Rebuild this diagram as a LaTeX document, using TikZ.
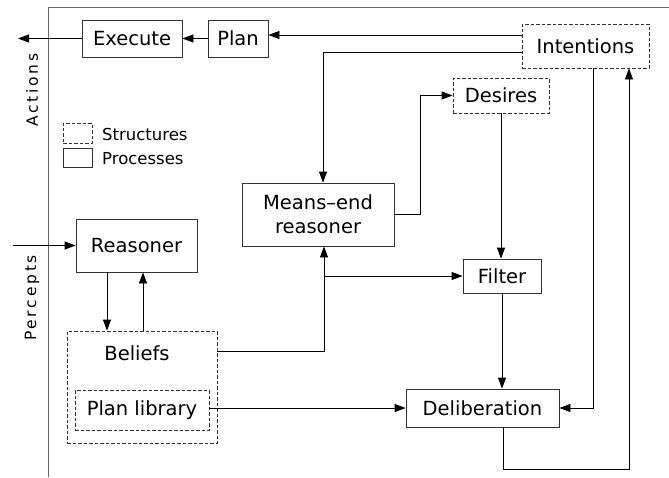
\documentclass[tikz,border=0pt]{standalone}
\usepackage{fontspec}
\setmainfont{DejaVu Sans}
\usetikzlibrary{arrows.meta}
\begin{document}
\begin{tikzpicture}[x=1pt,y=-1pt,
  every node/.style={inner sep=0pt,font=\fontsize{19.5}{24}\selectfont},
  proc/.style={draw=black!80,line width=0.8pt,minimum width=#1},
  struct/.style={draw=black!80,line width=0.8pt,dash pattern=on 3.5pt off 2pt,minimum width=#1},
  arr/.style={line width=0.8pt,-{Triangle[length=11pt,width=8pt]}},
  side/.style={rotate=90,font=\fontsize{15.5}{18}\selectfont\addfontfeature{LetterSpace=18}},
  legend/.style={anchor=west,font=\fontsize{16.5}{20}\selectfont}]
\useasboundingbox (0,0) rectangle (669,477);

% frame of the agent
\draw[line width=0.9pt,black!60] (669,7.5) -- (48,7.5) -- (48,477);

% processes and structures
\node[proc=100pt,minimum height=37pt] (execute) at (132,38.5) {Execute};
\node[proc=60pt,minimum height=37pt] (plan) at (238,38.5) {Plan};
\node[struct=127pt,minimum height=44pt] (intentions) at (585.5,46) {Intentions};
\node[struct=96pt,minimum height=35pt] (desires) at (501,95.5) {Desires};
\node[proc=152pt,minimum height=63pt,align=center] (means) at (318,214.5) {Means--end\\reasoner};
\node[proc=78pt,minimum height=34pt] (filter) at (502,276) {Filter};
\node[proc=153pt,minimum height=38pt] (delib) at (482.5,408) {Deliberation};
\node[proc=121pt,minimum height=53pt] (reasoner) at (136.5,245.5) {Reasoner};
\node[struct=150pt,minimum height=112pt] (beliefs) at (142,387) {};
\node (beliefstext) at (137,353) {Beliefs};
\node[struct=134pt,minimum height=40pt] (planlib) at (142,410) {Plan library};

% side labels
\node[side] (actions) at (32,90) {Actions};
\node[side] (percepts) at (32,298) {Percepts};

% legend
\node[struct=29pt,minimum height=20pt] (legs) at (77.5,133) {};
\node[proc=29pt,minimum height=19pt] (legp) at (77.5,157.5) {};
\node[legend] (legstext) at (102,134) {Structures};
\node[legend] (legptext) at (102,159) {Processes};

% free ends
\coordinate (out) at (18,38.5);
\coordinate (in) at (13,245.5);

% connectors
\draw[arr] (intentions.west |- 0,35) -- (plan.east |- 0,35);
\draw[arr] (plan.west) -- (execute.east);
\draw[arr] (execute.west) -- (out);
\draw[arr] (intentions.west |- 0,52) -- (323,52) -- (means.north -| 323,0);
\draw[arr] (means.east) -- (420,214.5) |- (desires.west);
\draw[arr] (desires.south) -- (desires.south |- filter.north);
\draw[arr] (filter.south) -- (filter.south |- delib.north);
\draw[arr] (intentions.south -| 593,0) -- (593,408) -- (delib.east);
\draw[arr] (delib.south -| 503,0) -- (503,469) -- (629,469) -- (intentions.south -| 629,0);
\draw[arr] (beliefs.east |- 0,351) -- (324,351) -- (means.south -| 324,0);
\draw[arr] (324,276) -- (filter.west);
\draw[arr] (planlib.east |- delib.west) -- (delib.west);
\draw[arr] (reasoner.south -| 107,0) -- (beliefs.north -| 107,0);
\draw[arr] (beliefs.north -| 143,0) -- (reasoner.south -| 143,0);
\draw[arr] (in) -- (reasoner.west);
\end{tikzpicture}
\end{document}
